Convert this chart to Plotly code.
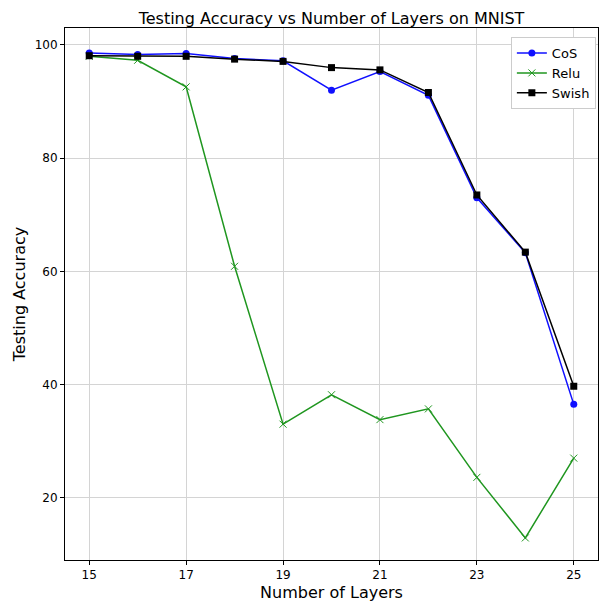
import plotly.graph_objects as go

layers = [15, 16, 17, 18, 19, 20, 21, 22, 23, 24, 25]
cos_acc = [98.6, 98.3, 98.5, 97.6, 97.2, 92.0, 95.3, 91.1, 73.0, 63.3, 36.5]
relu_acc = [98.0, 97.3, 92.6, 60.9, 33.0, 38.2, 33.8, 35.7, 23.6, 12.9, 27.0]
swish_acc = [98.1, 98.0, 98.0, 97.5, 97.1, 96.0, 95.6, 91.6, 73.5, 63.4, 39.7]
xticks = [15, 17, 19, 21, 23, 25]
yticks = [20, 40, 60, 80, 100]

fig = go.Figure()
fig.add_trace(go.Scatter(x=layers, y=cos_acc, name="CoS", mode="lines+markers",
                         line=dict(color="#1010ff", width=1.5),
                         marker=dict(symbol="circle", size=7, color="#1010ff")))
fig.add_trace(go.Scatter(x=layers, y=relu_acc, name="Relu", mode="lines+markers",
                         line=dict(color="#1f961f", width=1.5),
                         marker=dict(symbol="x-thin", size=7, color="#1f961f",
                                     line=dict(color="#1f961f", width=1))))
fig.add_trace(go.Scatter(x=layers, y=swish_acc, name="Swish", mode="lines+markers",
                         line=dict(color="#000000", width=1.5),
                         marker=dict(symbol="square", size=7, color="#000000")))

axis_common = dict(showline=True, linecolor="black", linewidth=1, mirror=True,
                   showgrid=True, gridcolor="#d4d4d4", gridwidth=1,
                   ticks="outside", ticklen=4, tickcolor="black",
                   tickfont=dict(family="DejaVu Sans", size=12, color="black"),
                   zeroline=False)

fig.update_layout(
    width=602, height=602,
    margin=dict(l=65, r=3, t=28, b=37),
    paper_bgcolor="white", plot_bgcolor="white",
    font=dict(family="DejaVu Sans", color="black"),
    title=dict(text="Testing Accuracy vs Number of Layers on MNIST",
               x=0.5, xref="paper", y=0.97, yref="container",
               yanchor="middle", font=dict(size=16, color="black")),
    xaxis=dict(range=[14.5, 25.5], tickvals=xticks,
               title=dict(text="Number of Layers", font=dict(size=16), standoff=5),
               **axis_common),
    yaxis=dict(range=[9.0, 103.0], tickvals=yticks,
               title=dict(text="Testing Accuracy", font=dict(size=16), standoff=5),
               **axis_common),
    legend=dict(x=0.996, y=0.983, xanchor="right", yanchor="top",
                bgcolor="white", bordercolor="#cccccc", borderwidth=1,
                font=dict(size=13, family="DejaVu Sans"),
                itemwidth=30, tracegroupgap=0),
    showlegend=True,
)

fig.write_html("out.html")
